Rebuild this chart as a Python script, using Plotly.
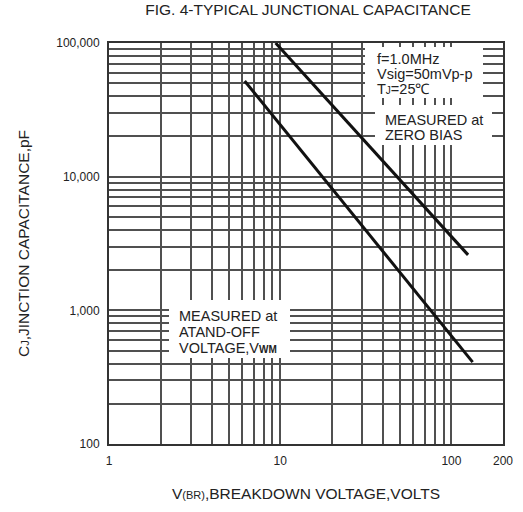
import plotly.graph_objects as go

# ---- data ----
v_zero_bias = [9.4, 125]          # breakdown voltage, V
c_zero_bias = [100000, 2600]      # capacitance, pF (measured at zero bias)
v_standoff = [6.2, 133]
c_standoff = [52000, 410]         # capacitance, pF (measured at stand-off voltage)

x_tickvals = [1, 10, 100, 200]
x_ticktext = ["1", "10", "100", "200"]
x_minorvals = [2, 3, 4, 5, 6, 7, 8, 9, 20, 30, 40, 50, 60, 70, 80, 90]
y_tickvals = [100, 1000, 10000, 100000]
y_ticktext = ["100", "1,000", "10,000", "100,000"]
y_minorvals = [m * 10 ** e for e in (2, 3, 4) for m in range(2, 10)]

FONT = "Liberation Sans, Arial, sans-serif"
TXT = "#222"
GRID = "#505050"

fig = go.Figure()
fig.add_trace(go.Scatter(x=v_zero_bias, y=c_zero_bias, mode="lines",
                         line=dict(color="#111", width=3), showlegend=False,
                         hoverinfo="skip"))
fig.add_trace(go.Scatter(x=v_standoff, y=c_standoff, mode="lines",
                         line=dict(color="#111", width=3), showlegend=False,
                         hoverinfo="skip"))

W, H = 523, 512
L, R, T, B = 109, 20, 43, 68
pw, ph = W - L - R, H - T - B

def px(x):
    return (x - L) / pw

def py(y):
    return (H - B - y) / ph

# white label boxes (pixel rectangles)
boxes = [(365, 47, 483, 98), (375, 105, 492, 145), (169, 300, 290, 358)]
for x0, y0, x1, y1 in boxes:
    fig.add_shape(type="rect", xref="paper", yref="paper",
                  x0=px(x0), x1=px(x1), y0=py(y1), y1=py(y0),
                  fillcolor="white", line=dict(width=0), layer="above")

small = "<span style='font-size:10px'>{}</span>"
notes = [
    (375, 59, "f=1.0MHz"),
    (375, 74, "Vsig=50mVp-p"),
    (375, 89, "T" + small.format("J") + "=25℃"),
    (383, 119.5, "MEASURED at"),
    (383, 135, "ZERO BIAS"),
    (177, 316, "MEASURED at"),
    (177, 332, "ATAND-OFF"),
    (177, 348, "VOLTAGE,V" + small.format("<b>WM</b>")),
]
for x, y, t in notes:
    fig.add_annotation(xref="paper", yref="paper", x=px(x), y=py(y),
                       xanchor="left", yanchor="middle", text=t, showarrow=False,
                       font=dict(family=FONT, size=14.5, color=TXT))

def axis_common(minorvals):
    return dict(showgrid=True, gridcolor=GRID, gridwidth=2,
                showline=True, linecolor="#333", linewidth=2, mirror=True,
                ticks="", zeroline=False, tickmode="array", automargin=False,
                minor=dict(tickmode="array", tickvals=minorvals, showgrid=True,
                           gridcolor=GRID, gridwidth=2, ticks=""),
                tickfont=dict(family=FONT, size=12, color=TXT))

fig.update_layout(
    width=W, height=H,
    margin=dict(l=L, r=R, t=T, b=B),
    paper_bgcolor="white", plot_bgcolor="white",
    hovermode=False,
    title=dict(text="FIG. 4-TYPICAL JUNCTIONAL CAPACITANCE", x=308 / W, xanchor="center",
               y=1 - 10 / H, yanchor="middle", automargin=False,
               font=dict(family=FONT, size=15.5, color=TXT)),
    xaxis=dict(type="log", range=[0, 2.30103], tickvals=x_tickvals, ticktext=x_ticktext,
               ticklabelstandoff=5,
               title=dict(text="V<span style='font-size:11px'>(BR)</span>,BREAKDOWN VOLTAGE,VOLTS",
                          standoff=21, font=dict(family=FONT, size=15.5, color=TXT)),
               **axis_common(x_minorvals)),
    yaxis=dict(type="log", range=[2, 5], tickvals=y_tickvals, ticktext=y_ticktext,
               ticklabelstandoff=5,
               title=dict(text="C<span style='font-size:11px'>J</span>,JINCTION CAPACITANCE,pF",
                          standoff=23, font=dict(family=FONT, size=15.5, color=TXT)),
               **axis_common(y_minorvals)),
)

fig.write_html("out.html", config={"displayModeBar": False, "staticPlot": True},
               post_script="document.body.style.margin='0px';")
